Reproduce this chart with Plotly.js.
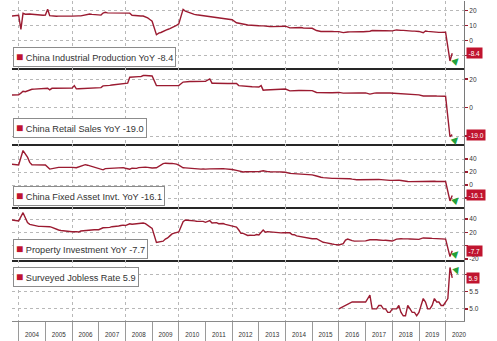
<!DOCTYPE html>
<html><head><meta charset="utf-8">
<script src="https://cdn.plot.ly/plotly-3.0.1.min.js"></script>
<style>html,body{margin:0;padding:0;background:#fff}#chart{width:497px;height:341px}</style>
</head><body><div id="chart"></div>
<script>
// ---------- DATA ----------
const seriesNames = ['China Industrial Production YoY', 'China Retail Sales YoY', 'China Fixed Asset Invt. YoY', 'Property Investment YoY', 'Surveyed Jobless Rate'];
const firstMonth = '2003-09';
const lastMonth = '2020-03';

// monthly values Sep 2003 .. Mar 2020 (null = no release)
const ipValues = [
 16.5, 16.7, 16.8, 17.0,
 7.6, 18.3, 17.7, 18.0, 17.8, 17.7, 17.5, 17.3, 17.2, 17.1, 17.0, 17.1,
 21.0, 16.7, 16.4, 16.3, 16.3, 16.4, 16.3, 16.3, 16.3, 16.3, 16.4, 16.4,
 16.3, 16.2, 16.6, 16.6, 17.0, 17.4, 17.7, 17.8, 17.6, 17.5, 17.4, 17.2,
 17.1, 18.5, 19.0, 18.6, 18.6, 18.6, 18.6, 18.6, 18.6, 18.6, 18.6, 18.6,
 18.6, 18.4, 17.0, 16.8, 16.6, 16.5, 16.5, 16.5, 16.0, 15.2, 14.2, 13.0,
 null, 4.0, 5.1, 5.5, 6.3, 7.0, 7.5, 8.1, 8.7, 9.4, 10.3, 11.3,
 null, 20.9, 19.8, 19.2, 18.6, 18.0, 17.6, 17.3, 17.1, 16.8, 16.5, 16.2,
 null, 15.9, 15.7, 15.6, 15.3, 14.9, 14.6, 14.4, 14.3, 14.2, 14.1, 14.0,
 null, 12.0, 11.8, 11.4, 11.1, 10.8, 10.5, 10.3, 10.1, 10.0, 10.0, 10.0,
 null, 9.9, 9.6, 9.5, 9.5, 9.4, 9.4, 9.6, 9.6, 9.7, 9.7, 9.7,
 null, 8.6, 8.7, 8.7, 8.7, 8.8, 8.8, 8.5, 8.5, 8.4, 8.3, 8.3,
 null, 6.8, 6.4, 6.2, 6.2, 6.3, 6.3, 6.3, 6.2, 6.1, 6.1, 6.1,
 null, 5.4, 5.8, 5.8, 5.9, 6.0, 6.0, 6.0, 6.0, 6.0, 6.0, 6.0,
 null, 6.3, 6.8, 6.7, 6.7, 6.9, 6.8, 6.7, 6.7, 6.7, 6.6, 6.6,
 null, 7.2, 6.8, 6.9, 6.9, 6.7, 6.6, 6.5, 6.4, 6.4, 6.3, 6.2,
 null, 5.3, 6.5, 6.2, 6.0, 6.0, 5.8, 5.6, 5.6, 5.6, 5.6, 5.7,
 null, -13.5, -8.4
];
const retailValues = [
 8.9, 8.9, 9.0, 9.1,
 10.2, 11.5, 11.2, 11.8, 12.5, 12.9, 13.0, 13.1, 13.2, 13.3, 13.5, 13.6,
 13.6, 12.5, 13.6, 13.6, 13.6, 13.6, 13.6, 13.6, 13.7, 13.7, 13.7, 13.7,
 15.5, 13.2, 13.3, 13.4, 13.5, 13.6, 13.7, 13.8, 13.9, 13.9, 14.0, 14.1,
 14.1, 15.3, 15.3, 15.5, 15.7, 15.9, 16.1, 16.3, 16.5, 16.7, 16.9, 17.2,
 17.2, 21.4, 21.6, 21.7, 21.8, 21.8, 21.8, 22.6, 22.6, 22.5, 22.4, 22.3,
 null, 15.5, 15.5, 15.4, 15.3, 15.3, 15.3, 15.3, 15.4, 15.5, 15.5, 15.5,
 null, 18.0, 18.3, 18.3, 18.4, 18.4, 18.4, 18.4, 18.4, 18.4, 18.5, 18.5,
 null, 20.2, 17.2, 17.2, 17.1, 17.0, 17.0, 17.0, 17.0, 17.0, 17.1, 17.1,
 null, 17.0, 15.5, 15.3, 15.1, 15.0, 14.9, 14.8, 14.7, 14.6, 14.5, 14.5,
 15.5, 12.3, 12.4, 12.5, 12.7, 12.7, 12.8, 12.9, 12.9, 13.0, 13.0, 13.1,
 null, 11.8, 12.0, 12.0, 12.0, 12.1, 12.1, 12.1, 12.0, 12.0, 12.0, 12.0,
 null, 10.7, 10.6, 10.4, 10.4, 10.4, 10.5, 10.5, 10.5, 10.6, 10.6, 10.7,
 null, 10.2, 10.3, 10.3, 10.2, 10.3, 10.3, 10.3, 10.4, 10.3, 10.4, 10.4,
 null, 9.5, 10.0, 10.2, 10.3, 10.4, 10.4, 10.4, 10.4, 10.3, 10.3, 10.2,
 null, 9.7, 9.8, 9.6, 9.5, 9.4, 9.3, 9.3, 9.3, 9.2, 9.1, 9.0,
 null, 8.2, 8.3, 8.0, 8.1, 8.4, 8.3, 8.2, 8.2, 8.1, 8.0, 8.0,
 null, -20.5, -19.0
];
const faiValues = [
 32.0, 31.5, 31.0, 30.8,
 null, 53.0, 47.8, 42.8, 34.8, 31.2, 31.0, 30.8, 30.5, 30.8, 30.8, 30.8,
 null, 24.5, 25.3, 25.7, 26.4, 27.1, 27.2, 27.4, 27.7, 27.6, 27.8, 27.2,
 null, 26.6, 27.7, 29.6, 30.3, 31.3, 30.5, 29.3, 28.2, 27.3, 26.6, 24.5,
 null, 23.4, 25.3, 25.5, 25.9, 26.7, 26.6, 26.7, 26.4, 26.9, 26.8, 25.8,
 null, 24.3, 25.9, 25.7, 25.6, 26.8, 27.3, 27.4, 27.6, 27.2, 26.8, 26.1,
 null, 26.5, 28.8, 30.5, 32.9, 33.6, 32.9, 33.0, 33.3, 33.1, 32.1, 30.5,
 null, 26.6, 26.4, 26.1, 25.9, 25.5, 24.9, 24.8, 24.5, 24.4, 24.9, 24.5,
 null, 24.9, 25.0, 25.4, 25.8, 25.6, 25.4, 25.0, 24.9, 24.9, 24.5, 23.8,
 null, 22.5, 21.5, 20.2, 20.1, 20.4, 20.4, 20.2, 20.5, 20.7, 20.7, 20.6,
 null, 22.0, 20.9, 20.6, 20.4, 20.1, 20.1, 20.3, 20.2, 20.1, 19.9, 19.6,
 null, 17.9, 17.6, 17.3, 17.2, 17.3, 17.0, 16.5, 16.1, 15.9, 15.8, 15.7,
 null, 13.9, 13.5, 12.0, 11.4, 11.4, 11.2, 10.9, 10.3, 10.2, 10.2, 10.0,
 null, 10.2, 10.7, 10.5, 9.6, 9.0, 8.1, 8.1, 8.2, 8.3, 8.3, 8.1,
 null, 8.9, 9.2, 8.9, 8.6, 8.6, 8.3, 7.8, 7.5, 7.3, 7.2, 7.2,
 null, 7.9, 7.5, 7.0, 6.1, 6.0, 5.5, 5.3, 5.4, 5.7, 5.9, 5.9,
 null, 6.1, 6.3, 6.1, 5.6, 5.8, 5.7, 5.5, 5.4, 5.2, 5.2, 5.4,
 null, -24.5, -16.1
];
const propertyValues = [
 38.5, 38.0, 37.5, 37.0,
 null, 49.5, 41.1, 34.6, 32.0, 31.0, 30.0, 29.5, 29.0, 29.0, 29.0, 28.1,
 null, 28.5, 27.5, 26.0, 24.5, 23.5, 22.8, 22.3, 21.8, 21.5, 21.2, 21.0,
 null, 21.0, 20.5, 22.0, 22.5, 23.0, 23.5, 23.5, 24.0, 24.0, 24.0, 24.0,
 null, 26.9, 26.9, 26.5, 27.4, 28.5, 28.6, 29.1, 29.5, 30.2, 30.8, 30.2,
 null, 32.9, 32.2, 32.5, 32.9, 33.5, 33.6, 34.0, 33.0, 31.0, 28.5, 26.0,
 null, 5.0, 5.5, 5.8, 6.8, 9.9, 11.6, 14.7, 17.7, 18.9, 19.5, 20.5,
 null, 36.0, 38.5, 38.2, 38.2, 38.1, 37.2, 36.7, 36.4, 36.5, 36.5, 35.0,
 null, 37.5, 34.1, 34.3, 34.6, 32.9, 33.6, 33.2, 32.0, 31.1, 29.9, 29.5,
 null, 27.8, 23.5, 18.6, 18.5, 16.6, 15.4, 15.6, 15.4, 15.4, 16.7, 16.2,
 null, 23.5, 20.2, 21.1, 20.6, 20.3, 20.5, 19.3, 19.7, 19.2, 19.5, 19.8,
 null, 19.3, 16.8, 16.4, 14.7, 14.1, 13.7, 13.2, 12.5, 12.4, 11.9, 10.5,
 null, 10.4, 8.5, 6.0, 5.1, 4.6, 4.3, 3.5, 2.6, 2.0, 1.3, 1.0,
 null, 3.0, 8.5, 10.0, 8.5, 7.5, 6.8, 6.8, 7.0, 7.2, 7.0, 7.2,
 null, 8.9, 9.1, 9.3, 8.8, 8.5, 7.9, 7.9, 8.1, 7.8, 7.5, 7.0,
 null, 9.9, 10.4, 10.3, 10.2, 9.7, 10.2, 10.1, 9.9, 9.7, 9.7, 9.5,
 null, 11.6, 11.8, 11.9, 11.2, 10.9, 10.6, 10.5, 10.5, 10.3, 10.2, 9.9,
 null, -16.3, -7.7
];
const joblessDates = [
 '2015-12-31', '2016-06-30', '2016-12-31',
 '2017-02-28', '2017-03-31', '2017-04-30', '2017-05-31', '2017-06-30', '2017-07-31', '2017-08-31', '2017-09-30', '2017-10-31', '2017-11-30', '2017-12-31',
 '2018-01-31', '2018-02-28', '2018-03-31', '2018-04-30', '2018-05-31', '2018-06-30', '2018-07-31', '2018-08-31', '2018-09-30', '2018-10-31', '2018-11-30', '2018-12-31',
 '2019-01-31', '2019-02-28', '2019-03-31', '2019-04-30', '2019-05-31', '2019-06-30', '2019-07-31', '2019-08-31', '2019-09-30', '2019-10-31', '2019-11-30', '2019-12-31',
 '2020-01-31', '2020-02-29', '2020-03-31'
];
const joblessValues = [
 5.0, 5.2, 5.2,
 5.4, 5.0, 5.0, 5.0, 5.1, 5.1, 5.0, 5.0, 4.9, 4.9, 5.0,
 5.0, 5.0, 5.1, 4.9, 4.8, 4.8, 5.1, 5.0, 4.9, 4.9, 4.8, 4.9,
 5.1, 5.3, 5.2, 5.0, 5.0, 5.1, 5.3, 5.2, 5.2, 5.1, 5.1, 5.2,
 5.3, 6.2, 5.9
];
// right-axis ticks; labels hidden where the last-value tag covers them
const yTickVals = [[-10, 0, 10, 20], [-20, 0, 20], [-20, 0, 20, 40], [-20, 0, 20, 40], [5.0, 5.5, 6.0]];
const yTickText = [['', '0', '10', '20'], ['', '0', '20'], ['', '0', '20', '40'], ['-20', '', '20', '40'], ['5.0', '5.5', '']];

// ---------- helpers ----------
function monthEnds(a, b) {
  let [y, m] = a.split('-').map(Number);
  const [ey, em] = b.split('-').map(Number);
  const out = [];
  while (y < ey || (y === ey && m <= em)) {
    const d = new Date(Date.UTC(y, m, 0)).getUTCDate();
    out.push(y + '-' + String(m).padStart(2, '0') + '-' + String(d).padStart(2, '0'));
    m++; if (m > 12) { m = 1; y++; }
  }
  return out;
}
const months = monthEnds(firstMonth, lastMonth);

const LINE = '#9b1b31';
const RED = '#c0142f';
const GREEN = '#23a13a';
const FONT = 'Liberation Sans, Arial, sans-serif';
const xRange = ['2003-10-01', '2020-09-08'];
const domains = [[0.790625, 1], [0.553125, 0.790625], [0.35625, 0.553125], [0.1921875, 0.35625], [0, 0.1921875]];
const yRanges = [[-18.2, 26.5], [-25.6, 27.9], [-33.8, 63.1], [-20.7, 58], [4.65, 6.43]];
const legendShift = [1, 6, 1, 1, -7];
const arrowShift = [-7, -4, -4, -2, 7];

const xs = [months, months, months, months, joblessDates];
const ys = [ipValues, retailValues, faiValues, propertyValues, joblessValues];
const id = i => (i === 0 ? '' : String(i + 1));

const traces = [];
const layout = {
  width: 497, height: 341, autosize: false,
  margin: {l: 12, r: 33, t: 1, b: 20, pad: 0},
  paper_bgcolor: '#fff', plot_bgcolor: '#fff',
  showlegend: false,
  font: {family: FONT, color: '#333'},
  annotations: []
};

for (let i = 0; i < 5; i++) {
  traces.push({
    x: xs[i], y: ys[i], xaxis: 'x' + id(i), yaxis: 'y' + id(i),
    type: 'scatter', mode: 'lines', connectgaps: true,
    line: {color: LINE, width: 1.4}, hoverinfo: 'skip', name: seriesNames[i]
  });
  layout['xaxis' + id(i)] = {
    domain: [0, 1], anchor: 'y' + id(i), type: 'date', range: xRange,
    showgrid: true, dtick: 'M24', tick0: '2004-01-01',
    gridcolor: '#b8b8b8', griddash: 'dot', gridwidth: 1,
    showticklabels: false, ticks: '', zeroline: false,
    showline: true, linecolor: i < 4 ? '#262626' : '#8a8a8a', linewidth: i < 4 ? 2 : 1,
    fixedrange: true
  };
  layout['yaxis' + id(i)] = {
    domain: domains[i], anchor: 'x' + id(i), side: 'right',
    range: yRanges[i], tickmode: 'array', tickvals: yTickVals[i], ticktext: yTickText[i],
    showgrid: true, gridcolor: '#b8b8b8', griddash: 'dot', gridwidth: 1,
    zeroline: false, showline: true, linecolor: '#7a7a7a', linewidth: 1,
    ticks: 'outside', ticklen: 3, tickwidth: 1.5, tickcolor: LINE,
    tickfont: {size: 6.5, color: '#333', family: FONT},
    fixedrange: true
  };
  const last = ys[i][ys[i].length - 1];
  const lastTxt = last.toFixed(1);
  // legend box
  layout.annotations.push({
    xref: 'paper', x: 0, xanchor: 'left', xshift: 0.5,
    yref: 'y' + id(i) + ' domain', y: i === 4 ? 1 : 0, yanchor: i === 4 ? 'top' : 'bottom',
    yshift: legendShift[i], showarrow: false, align: 'left',
    text: '<span style="color:' + RED + ';font-size:12px">■</span> ' + seriesNames[i] + ' ' + lastTxt,
    font: {family: FONT, size: 9.2, color: '#333'},
    bgcolor: '#ffffff', bordercolor: '#8c8c8c', borderwidth: 1, borderpad: 2
  });
  // last value tag
  layout.annotations.push({
    xref: 'paper', x: 1, xanchor: 'left', xshift: 2,
    yref: 'y' + id(i), y: last, yanchor: 'middle', showarrow: false,
    text: lastTxt, font: {family: FONT, size: 6.5, color: '#ffffff'},
    bgcolor: RED, borderpad: 1.5
  });
  // direction arrow
  layout.annotations.push({
    xref: 'paper', x: 1, xanchor: 'center', xshift: -8,
    yref: 'y' + id(i), y: last, yanchor: 'middle', yshift: arrowShift[i], showarrow: false,
    text: i < 4 ? '▲' : '▼', textangle: i < 4 ? 45 : -20,
    font: {family: 'DejaVu Sans', size: 9, color: GREEN}
  });
}

// year labels axis (overlay on bottom panel)
traces.push({
  x: joblessDates, y: joblessValues, xaxis: 'x6', yaxis: 'y5',
  type: 'scatter', mode: 'lines', line: {width: 0, color: 'rgba(0,0,0,0)'},
  hoverinfo: 'skip', showlegend: false
});
layout.xaxis6 = {
  overlaying: 'x5', anchor: 'y5', type: 'date', range: xRange,
  dtick: 'M12', tick0: '2004-01-01', ticklabelmode: 'period', tickformat: '%Y',
  ticks: 'outside', ticklen: 20, tickwidth: 1, tickcolor: '#9a9a9a',
  ticklabelstandoff: -13,
  tickfont: {size: 6.3, color: '#333', family: FONT},
  showgrid: false, showline: false, zeroline: false, fixedrange: true
};

Plotly.newPlot('chart', traces, layout, {staticPlot: true, displayModeBar: false});
</script>
</body></html>
